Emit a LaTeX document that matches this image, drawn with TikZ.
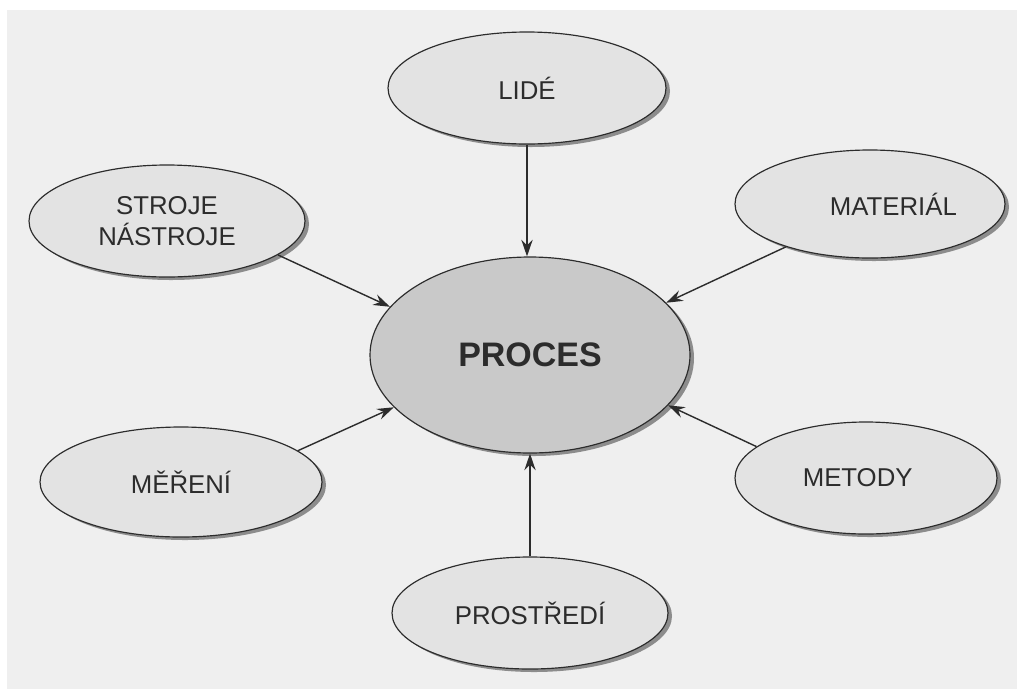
\documentclass[tikz,border=0pt]{standalone}
\usepackage{fontspec}
\setmainfont{Liberation Sans}
\usetikzlibrary{shapes.geometric,arrows.meta,shadows}

\definecolor{paper}{HTML}{EFEFEF}
\definecolor{bubble}{HTML}{E3E3E3}
\definecolor{core}{HTML}{C9C9C9}
\definecolor{ink}{HTML}{2C2C2C}

\tikzset{
  bubble/.style={ellipse, draw=ink, line width=1pt, fill=bubble, inner sep=0pt,
    text=ink, align=center, font=\fontsize{22}{27}\selectfont,
    drop shadow={shadow xshift=0.12cm, shadow yshift=-0.09cm, fill=black!45, opacity=1}},
  corebubble/.style={bubble, fill=core, font=\fontsize{29}{30}\selectfont\bfseries},
  feed/.style={draw=ink, line width=1.2pt,
    -{Stealth[length=0.5cm, width=0.34cm, inset=0.17cm]}}
}

\begin{document}
\begin{tikzpicture}[x=0.03cm, y=-0.03cm]
  % page
  \fill[white] (0,0) rectangle (1017,689);
  \useasboundingbox (0,0) rectangle (1017,689);
  \fill[paper] (7,10) rectangle (1017,689);

  % central process and its inputs
  \node[corebubble, minimum width=320*0.03cm, minimum height=196*0.03cm] (proc) at (530,355) {PROCES};
  \node[bubble, minimum width=278*0.03cm, minimum height=112*0.03cm] (lide) at (527,88) {LIDÉ};
  \node[bubble, minimum width=276*0.03cm, minimum height=112*0.03cm] (stroje) at (167,221) {STROJE\\NÁSTROJE};
  \node[bubble, minimum width=270*0.03cm, minimum height=108*0.03cm] (material) at (870,204) {\hspace*{1.4cm}MATERIÁL};
  \node[bubble, minimum width=282*0.03cm, minimum height=110*0.03cm] (mereni) at (181,482) {MĚŘENÍ};
  \node[bubble, minimum width=262*0.03cm, minimum height=112*0.03cm] (metody) at (866,478) {METODY\hspace*{0.5cm}};
  \node[bubble, minimum width=276*0.03cm, minimum height=112*0.03cm] (prostredi) at (530,613) {PROSTŘEDÍ};

  % arrows into the process
  \draw[feed] (lide.south) -- (lide.south |- proc.north);
  \draw[feed] (prostredi.north) -- (proc.south);
  \draw[feed] (stroje.-17.7) -- (proc.161);
  \draw[feed] (mereni.15.3) -- (proc.201);
  \draw[feed] (material.207) -- (proc.21);
  \draw[feed] (metody.164) -- (proc.-20.5);
\end{tikzpicture}
\end{document}
